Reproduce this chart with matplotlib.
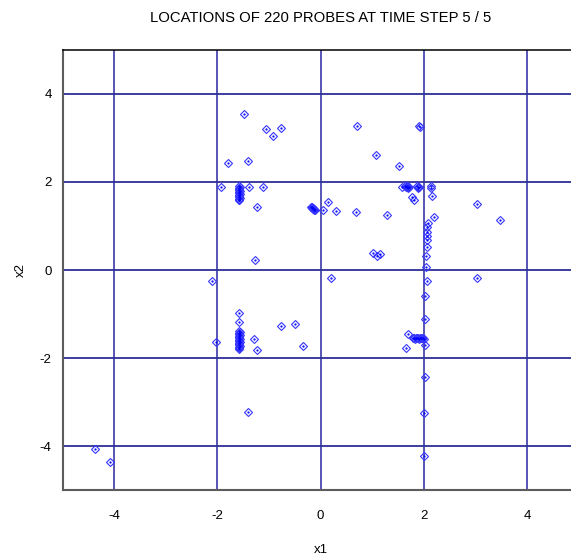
import matplotlib
matplotlib.use("Agg")
import matplotlib.pyplot as plt

plt.rcParams["font.family"] = ["Liberation Sans", "DejaVu Sans"]
plt.rcParams["axes.unicode_minus"] = False

TITLE = "LOCATIONS OF 220 PROBES AT TIME STEP 5 / 5"
X_TICKS = [-4, -2, 0, 2, 4]
Y_TICKS = [-4, -2, 0, 2, 4]

# scattered probes
single_x1 = [-1.49, -1.05, -0.77, -0.92, 0.70, 1.07, -1.79, -1.40, -1.93, -1.38,
             -1.11, -1.23, 0.05, 0.14, 0.29, 0.69, 1.29, 1.01, 1.10, 1.15,
             -1.28, -2.10, 0.20, 1.91, 1.93, 1.52, 1.57, 1.64, 1.69, 1.72,
             1.86, 1.91, 2.14, 2.14, 1.77, 1.80, 2.16, 3.04, 3.47, 2.20,
             2.09, 2.07, 2.07, 2.06, 2.06, 2.06, 2.04, 2.04, 2.06, 3.03,
             -1.575, -1.575, -2.03, -1.29, -1.23, -0.77, -0.50, -0.335, -1.40, 2.02,
             2.02, 1.69, 1.655, 2.02, 2.02, 2.00, 2.00, -4.37, -4.08]
single_x2 = [3.53, 3.19, 3.22, 3.04, 3.27, 2.60, 2.42, 2.48, 1.88, 1.88,
             1.88, 1.44, 1.36, 1.55, 1.35, 1.32, 1.26, 0.38, 0.32, 0.36,
             0.23, -0.25, -0.17, 3.27, 3.24, 2.37, 1.88, 1.90, 1.89, 1.88,
             1.90, 1.88, 1.90, 1.86, 1.66, 1.60, 1.69, 1.49, 1.13, 1.21,
             1.06, 0.97, 0.87, 0.78, 0.68, 0.53, 0.32, 0.075, -0.24, -0.19,
             -0.98, -1.17, -1.63, -1.57, -1.81, -1.27, -1.23, -1.72, -3.21, -0.59,
             -1.10, -1.46, -1.76, -1.70, -2.42, -3.25, -4.21, -4.07, -4.35]

# probes piled up on top of each other
upper_col_x1 = [-1.575, -1.57, -1.575, -1.58, -1.575, -1.57, -1.575, -1.58, -1.575,
                -1.57, -1.575, -1.58, -1.575, -1.57, -1.575, -1.58, -1.575]
upper_col_x2 = [1.90, 1.88, 1.86, 1.84, 1.82, 1.80, 1.78, 1.76, 1.74,
                1.72, 1.70, 1.68, 1.66, 1.64, 1.62, 1.60, 1.58]
lower_col_x1 = [-1.575, -1.57, -1.575, -1.58, -1.575, -1.57, -1.575, -1.58, -1.575,
                -1.57, -1.575, -1.58, -1.575, -1.57, -1.575, -1.58, -1.575, -1.57,
                -1.575, -1.58, -1.575]
lower_col_x2 = [-1.38, -1.40, -1.42, -1.44, -1.46, -1.48, -1.50, -1.52, -1.54,
                -1.56, -1.58, -1.60, -1.62, -1.64, -1.66, -1.68, -1.70, -1.72,
                -1.74, -1.76, -1.78]
bar_x1 = [1.79, 1.81, 1.83, 1.85, 1.87, 1.89, 1.91, 1.93, 1.95, 1.97, 1.99, 2.01]
bar_x2 = [-1.55, -1.55, -1.56, -1.55, -1.54, -1.55, -1.56, -1.55, -1.54, -1.55, -1.55, -1.56]
blob_x1 = [-0.18, -0.17, -0.16, -0.15, -0.14, -0.13, -0.12, -0.11]
blob_x2 = [1.43, 1.42, 1.41, 1.40, 1.39, 1.38, 1.37, 1.36]
knot_x1 = [1.66, 1.67, 1.68, 1.70, 1.88, 1.89]
knot_x2 = [1.89, 1.88, 1.90, 1.87, 1.89, 1.87]

x1 = single_x1 + upper_col_x1 + lower_col_x1 + bar_x1 + blob_x1 + knot_x1
x2 = single_x2 + upper_col_x2 + lower_col_x2 + bar_x2 + blob_x2 + knot_x2

fig = plt.figure(figsize=(5.71, 5.58), dpi=100)
# right edge of the frame runs past the canvas
ax = fig.add_axes([0.1098, 0.121, 0.9035, 0.790])
ax.set_xlim(-5, 5)
ax.set_ylim(-5, 5)

for v in X_TICKS:
    ax.axvline(v, color="#5656b4", lw=1.4, zorder=1)
for v in Y_TICKS:
    ax.axhline(v, color="#2e2e98", lw=1.3, zorder=1)

ax.plot(x1, x2, ls="none", marker="D", ms=3.6, mfc="none", mec="#3535ff",
        mew=0.8, zorder=3)
ax.plot(x1, x2, ls="none", marker=".", ms=1.2, color="#0000ff", zorder=4)

ax.set_xticks(X_TICKS)
ax.set_yticks(Y_TICKS)
ax.tick_params(length=0, labelsize=9.5, colors="black")
ax.tick_params(axis="x", pad=14)
ax.tick_params(axis="y", pad=8)

for side in ("left", "bottom"):
    ax.spines[side].set_color("#5c5c5c")
    ax.spines[side].set_linewidth(1.5)
ax.spines["top"].set_color("black")
ax.spines["top"].set_linewidth(1.1)

ax.set_xlabel("x1", fontsize=9.5)
ax.set_ylabel("x2", fontsize=9.5)
ax.xaxis.set_label_coords(0.5, -0.121)
ax.yaxis.set_label_coords(-0.069, 0.5)
ax.set_title(TITLE, fontsize=10.7, pad=20)

fig.savefig("out.png", dpi=100)
